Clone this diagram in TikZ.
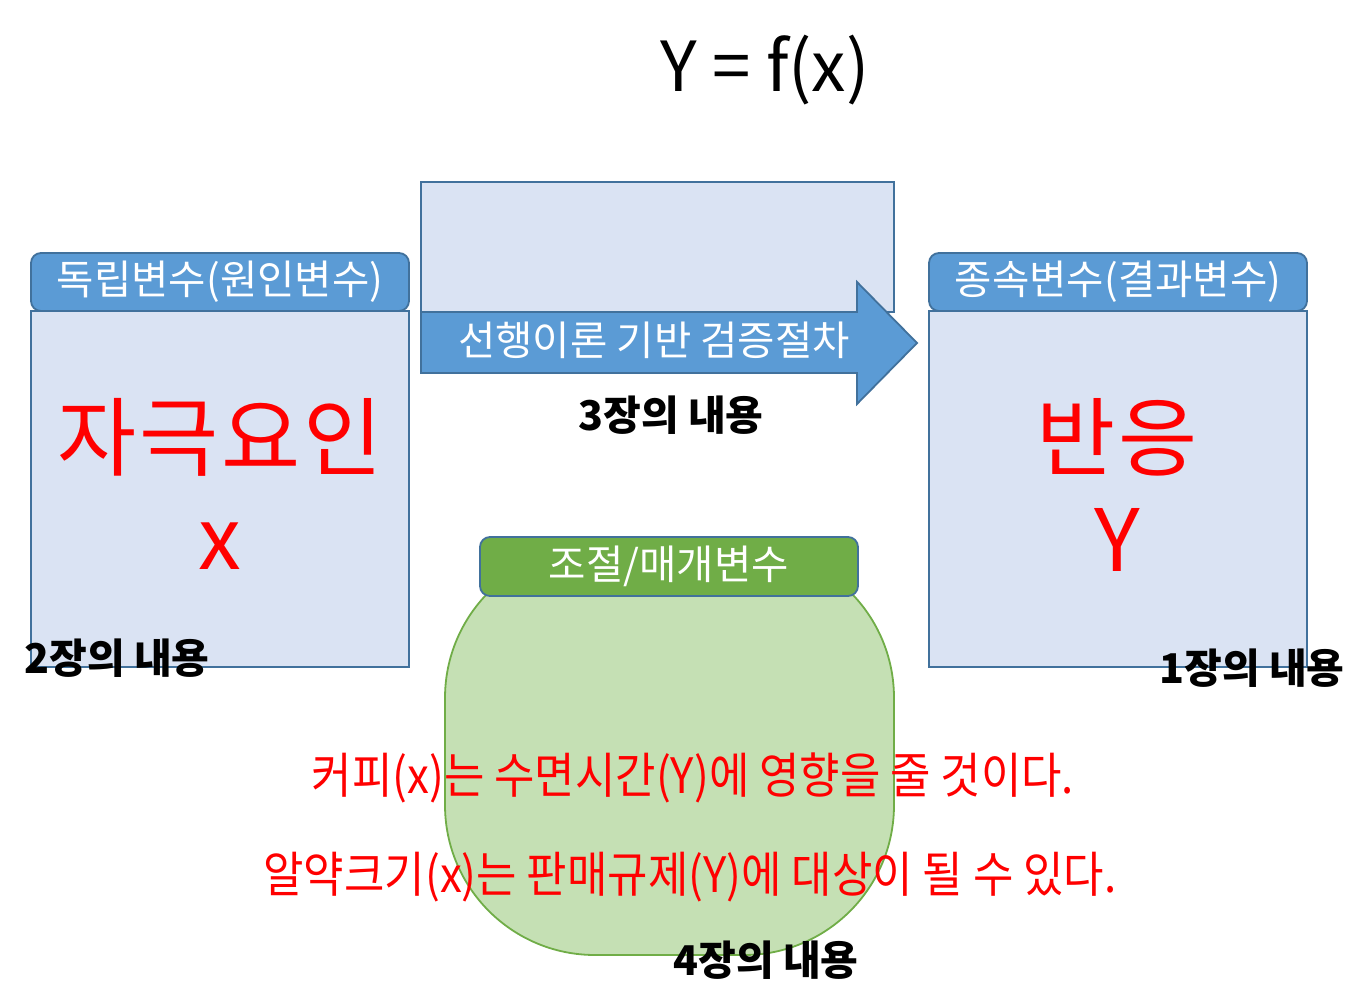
\documentclass[tikz,border=0pt]{standalone}
\usepackage{fontspec}
\setmainfont{Noto Sans CJK KR}
\newfontfamily\krnarrow[FakeStretch=0.9]{Noto Sans CJK KR}
\definecolor{hdrblue}{HTML}{5B9BD5}
\definecolor{bordblue}{HTML}{41719C}
\definecolor{lightblue}{HTML}{DAE3F3}
\definecolor{hdrgreen}{HTML}{70AD47}
\definecolor{lightgreen}{HTML}{C5E0B4}
\definecolor{redtext}{HTML}{FF0000}
\tikzset{
  hdr/.style={draw=bordblue, fill=hdrblue, rounded corners=5pt, line width=0.9pt,
    minimum width=189pt, minimum height=29pt, inner sep=0pt, text=white,
    font=\fontsize{20.3}{24}\selectfont},
  panel/.style={draw=bordblue, fill=lightblue, line width=0.9pt,
    minimum width=189pt, minimum height=178pt, inner sep=0pt},
  bigred/.style={text=redtext, font=\fontsize{43}{50}\selectfont, inner sep=0pt},
  chap/.style={font=\bfseries\fontsize{20.5}{24}\selectfont, inner sep=0pt},
  sent/.style={text=redtext, font=\krnarrow\fontsize{24.4}{29}\selectfont, inner sep=0pt},
}
\begin{document}
\begin{tikzpicture}[x=0.5pt, y=-0.5pt]
\useasboundingbox (0,0) rectangle (1369,1005);
\fill[white] (0,0) rectangle (1369,1005);

% title
\node[font=\fontsize{34.5}{40}\selectfont, inner sep=0pt] (title) at (765,70) {Y = f(x)};

% left panel
\node[panel] (leftbox) at (220,489) {};
\node[hdr] (lefthdr) at (220,282) {독립변수(원인변수)};
\node[bigred] (stim) at (220,437) {자\kern1.5pt 극\kern1.5pt 요\kern1.5pt 인};
\node[bigred] (xvar) at (220,546) {x};
\node[chap] (ch2) at (117,658) {2장의 내용};

% right panel
\node[panel] (rightbox) at (1118,489) {};
\node[hdr] (righthdr) at (1118,282) {종속변수(결과변수)};
\node[bigred] (resp) at (1117,437) {반\kern1.5pt 응};
\node[bigred] (yvar) at (1117,540) {Y};
\node[chap] (ch1) at (1252,668) {1장의 내용};

% middle top box and arrow
\node[draw=bordblue, fill=lightblue, line width=0.9pt, minimum width=236.5pt,
  minimum height=65pt, inner sep=0pt] (midbox) at (657.5,247) {};
\draw[draw=bordblue, fill=hdrblue, line width=0.9pt]
  (421,312) -- (857,312) -- (857,282) -- (917,343) -- (857,404) -- (857,373) -- (421,373) -- cycle;
\node[text=white, font=\fontsize{20.3}{24}\selectfont, inner sep=0pt] (arrowtext) at (654,340) {선행이론 기반 검증절차};
\node[chap] (ch3) at (671,415) {3장의 내용};

% green moderator
\node[draw=hdrgreen, fill=lightgreen, line width=0.9pt, rounded corners=75pt,
  minimum width=224.5pt, minimum height=203.5pt, inner sep=0pt] (blob) at (669.5,751.5) {};
\node[hdr, fill=hdrgreen, minimum height=29.5pt] (greenhdr) at (669,566.5) {조절/매개변수};
\node[sent] (s1) at (693,778) {커피(x)는 수면시간(Y)에 영향을 줄 것이다.};
\node[sent] (s2) at (690,877) {알약크기(x)는 판매규제(Y)에 대상이 될 수 있다.};
\node[chap] (ch4) at (766,960) {4장의 내용};
\end{tikzpicture}
\end{document}
